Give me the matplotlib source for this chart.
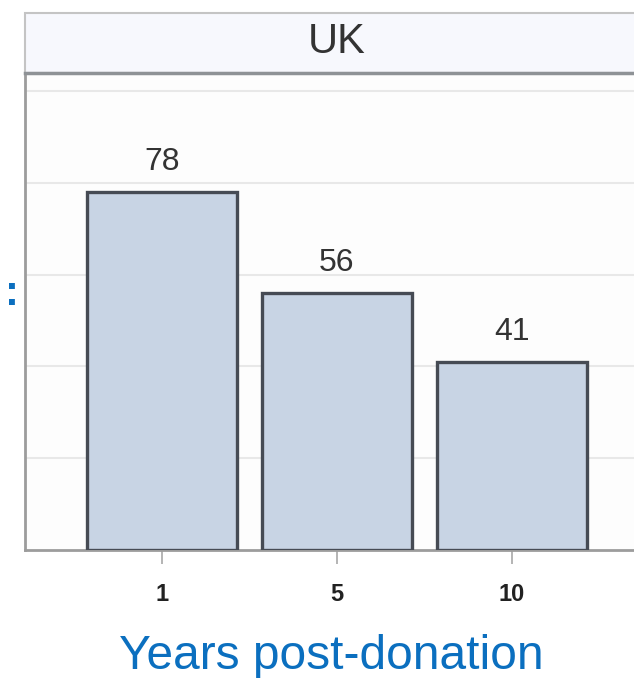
import matplotlib.pyplot as plt
from matplotlib.patches import Rectangle

# values
panel = "UK"
years = ["1", "5", "10"]
counts = [78, 56, 41]
x_label = "Years post-donation"

W, H = 634, 678
fig = plt.figure(figsize=(W / 100, H / 100), dpi=100)
plt.rcParams['font.family'] = ['Liberation Sans', 'DejaVu Sans']

# axes: left edge at x=25px, bottom at y=550px, top at y=75px, runs past right edge
ax_left, ax_bottom, ax_top = 25, 550, 75
ax_width = 624
ax = fig.add_axes([ax_left / W, 1 - ax_bottom / H, ax_width / W, (ax_bottom - ax_top) / H])
ax.set_facecolor('#fdfdfd')

pos = range(len(years))
bars = ax.bar(pos, counts, width=0.857, color='#c8d4e4', edgecolor='#464b54',
              linewidth=2.4, zorder=3)
for b, v in zip(bars, counts):
    ax.annotate(str(v), (b.get_x() + b.get_width() / 2, v), xytext=(0, 11),
                textcoords='offset points', ha='center', va='bottom',
                fontsize=23, color='#333333')

ax.set_xlim(-0.783, 2.783)
ax.set_ylim(0, 103.5)
ax.set_yticks([20, 40, 60, 80, 100])
ax.yaxis.grid(True, color='#e8e8e8', linewidth=1.5, zorder=0)
ax.tick_params(axis='y', left=False, labelleft=False)
ax.set_xticks(list(pos))
ax.set_xticklabels(years, fontsize=17, color='#222222', fontweight='bold')
ax.tick_params(axis='x', length=10, width=1.2, color='#a8a8a8', pad=14)
for s in ['top', 'right']:
    ax.spines[s].set_visible(False)
for s in ['left', 'bottom']:
    ax.spines[s].set_color('#9c9c9c')
    ax.spines[s].set_linewidth(2)

# panel header strip
hdr_top, hdr_bot = 13, 73
fig.patches.append(Rectangle((ax_left / W, 1 - hdr_bot / H), ax_width / W,
                             (hdr_bot - hdr_top) / H, transform=fig.transFigure,
                             facecolor='#f7f8fd', edgecolor='#c4c4c4', linewidth=1.5))
fig.add_artist(plt.Line2D([ax_left / W, 1], [1 - hdr_bot / H] * 2,
                          color='#8e9296', linewidth=2.5))
fig.text((ax_left + ax_width / 2) / W, 1 - 42 / H, panel,
         ha='center', va='center', fontsize=30, color='#333333')

# x label and the visible end of the clipped y label
fig.text(331 / W, 1 - 656.5 / H, x_label, ha='center', va='center',
         fontsize=34.5, color='#0b6fbf')
fig.text(11.5 / W, 1 - 294 / H, ":", ha='center', va='center',
         fontsize=30, color='#0b6fbf', fontweight='bold')

fig.savefig('out.png', dpi=100)
